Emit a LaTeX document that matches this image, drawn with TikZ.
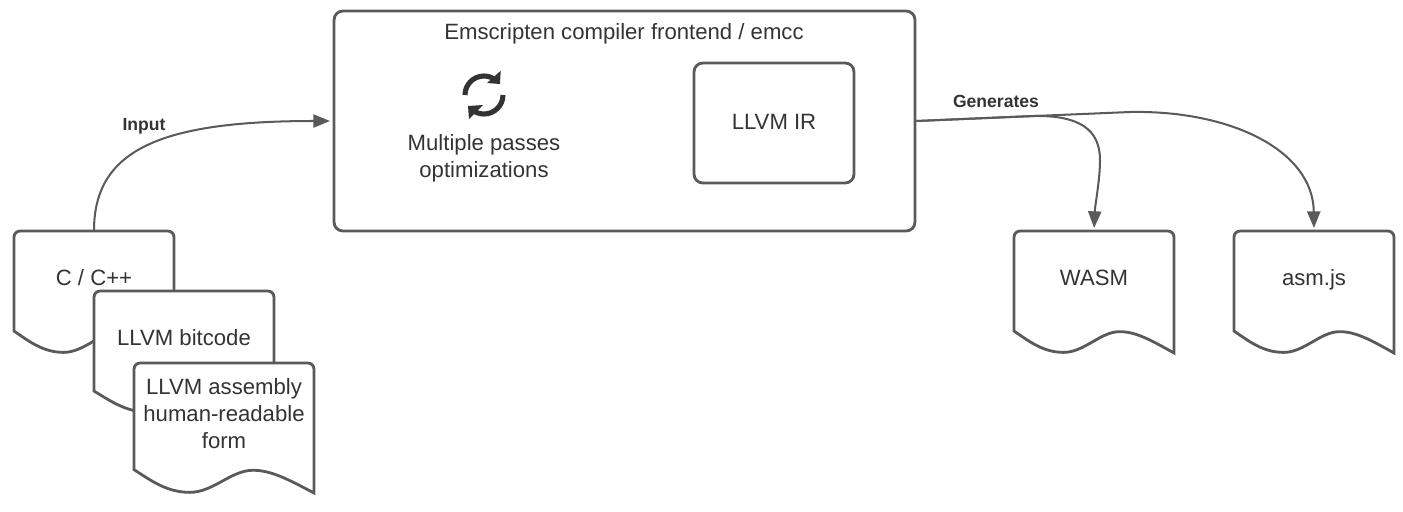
\documentclass[tikz,border=0pt]{standalone}
\usepackage{fontspec}
\setmainfont{Liberation Sans}
\usepackage{tikz}
\usetikzlibrary{arrows.meta}
\definecolor{lineGray}{HTML}{5A5A5A}
\definecolor{textGray}{HTML}{333333}
\tikzset{
  boxline/.style={draw=lineGray, line width=1.6pt},
  bigtext/.style={font=\fontsize{12.6}{15.4}\selectfont, text=textGray, align=center, inner sep=0pt},
  edgetext/.style={font=\fontsize{10}{12}\selectfont\bfseries, text=textGray, inner sep=0pt},
  flow/.style={draw=lineGray, line width=1.15pt, -{Triangle[length=9.5pt,width=7.5pt]}, shorten >=1.5pt},
  docbody/.style={inner sep=0pt}
}
% name, x, y, width, height (pixels of the picture)
\newcommand{\docshape}[5]{%
  \filldraw[boxline, fill=white, shift={(#2,#3)}] (0,0.82*#5) [rounded corners=3.5pt] -- (0,0) -- (#4,0) -- (#4,0.5*#5) [sharp corners] -- (#4,#5)
    .. controls (0.85*#4,0.89*#5) and (0.76*#4,0.825*#5) .. (0.66*#4,0.825*#5)
    .. controls (0.54*#4,0.825*#5) and (0.44*#4,0.995*#5) .. (0.31*#4,0.995*#5)
    .. controls (0.18*#4,0.995*#5) and (0.09*#4,0.90*#5) .. (0,0.82*#5) -- cycle;
  \node[docbody, minimum width=#4*0.02cm, minimum height=#5*0.02cm] (#1) at ({#2+#4/2},{#3+#5/2}) {};
}

\begin{document}
\begin{tikzpicture}[x=0.02cm, y=-0.02cm]
\useasboundingbox (0,0) rectangle (1403,511);

\node[boxline, rounded corners=5pt, minimum width=11.62cm, minimum height=4.4cm] (emcc) at (624.5,121) {};
\node[bigtext] (emccTitle) at (624,34) {Emscripten compiler frontend / emcc};
\node[boxline, rounded corners=5pt, minimum width=3.2cm, minimum height=2.4cm] (irBox) at (774,123) {};
\node[bigtext] (irText) at (774,122) {LLVM IR};
\node[bigtext] (passes) at (484,158) {Multiple passes\\optimizations};

% refresh icon
\draw[textGray, line width=2.9pt] (465,95) arc[start angle=180, end angle=310, radius=19];
\draw[textGray, line width=2.9pt] (503,95) arc[start angle=0, end angle=130, radius=19];
\fill[textGray] (500.7,70.7) -- (500,84) -- (487,83) -- cycle;
\fill[textGray] (468,106) -- (469,119) -- (483,105) -- cycle;

\docshape{cDoc}{14}{231}{160}{122}
\node[bigtext] (cText) at (94,278) {C / C++};
\docshape{bitcodeDoc}{94}{291}{180}{122}
\node[bigtext] (bitcodeText) at (184,338) {LLVM bitcode};
\docshape{assemblyDoc}{134}{363}{180}{130}
\node[bigtext] (assemblyText) at (224,414) {LLVM assembly\\human-readable\\form};
\docshape{wasmDoc}{1014}{231}{160}{122}
\node[bigtext] (wasmText) at (1094,278) {WASM};
\docshape{asmDoc}{1234}{231}{160}{122}
\node[bigtext] (asmText) at (1314,280) {asm.js};

\draw[flow] (cDoc.north) .. controls (94,150) and (160,121) .. (emcc.west);
\node[edgetext] (inputLabel) at (144,126) {Input};

\draw[flow] (emcc.east) -- (1033,116) .. controls (1080,115) and (1100,130) .. (1100,160)
  .. controls (1100,180) and (1095,205) .. (wasmDoc.north);
\draw[flow] (emcc.east) -- (1130,112) .. controls (1230,110) and (1313,150) .. (asmDoc.north);
\node[edgetext] (generatesLabel) at (996,101) {Generates};
\end{tikzpicture}
\end{document}
